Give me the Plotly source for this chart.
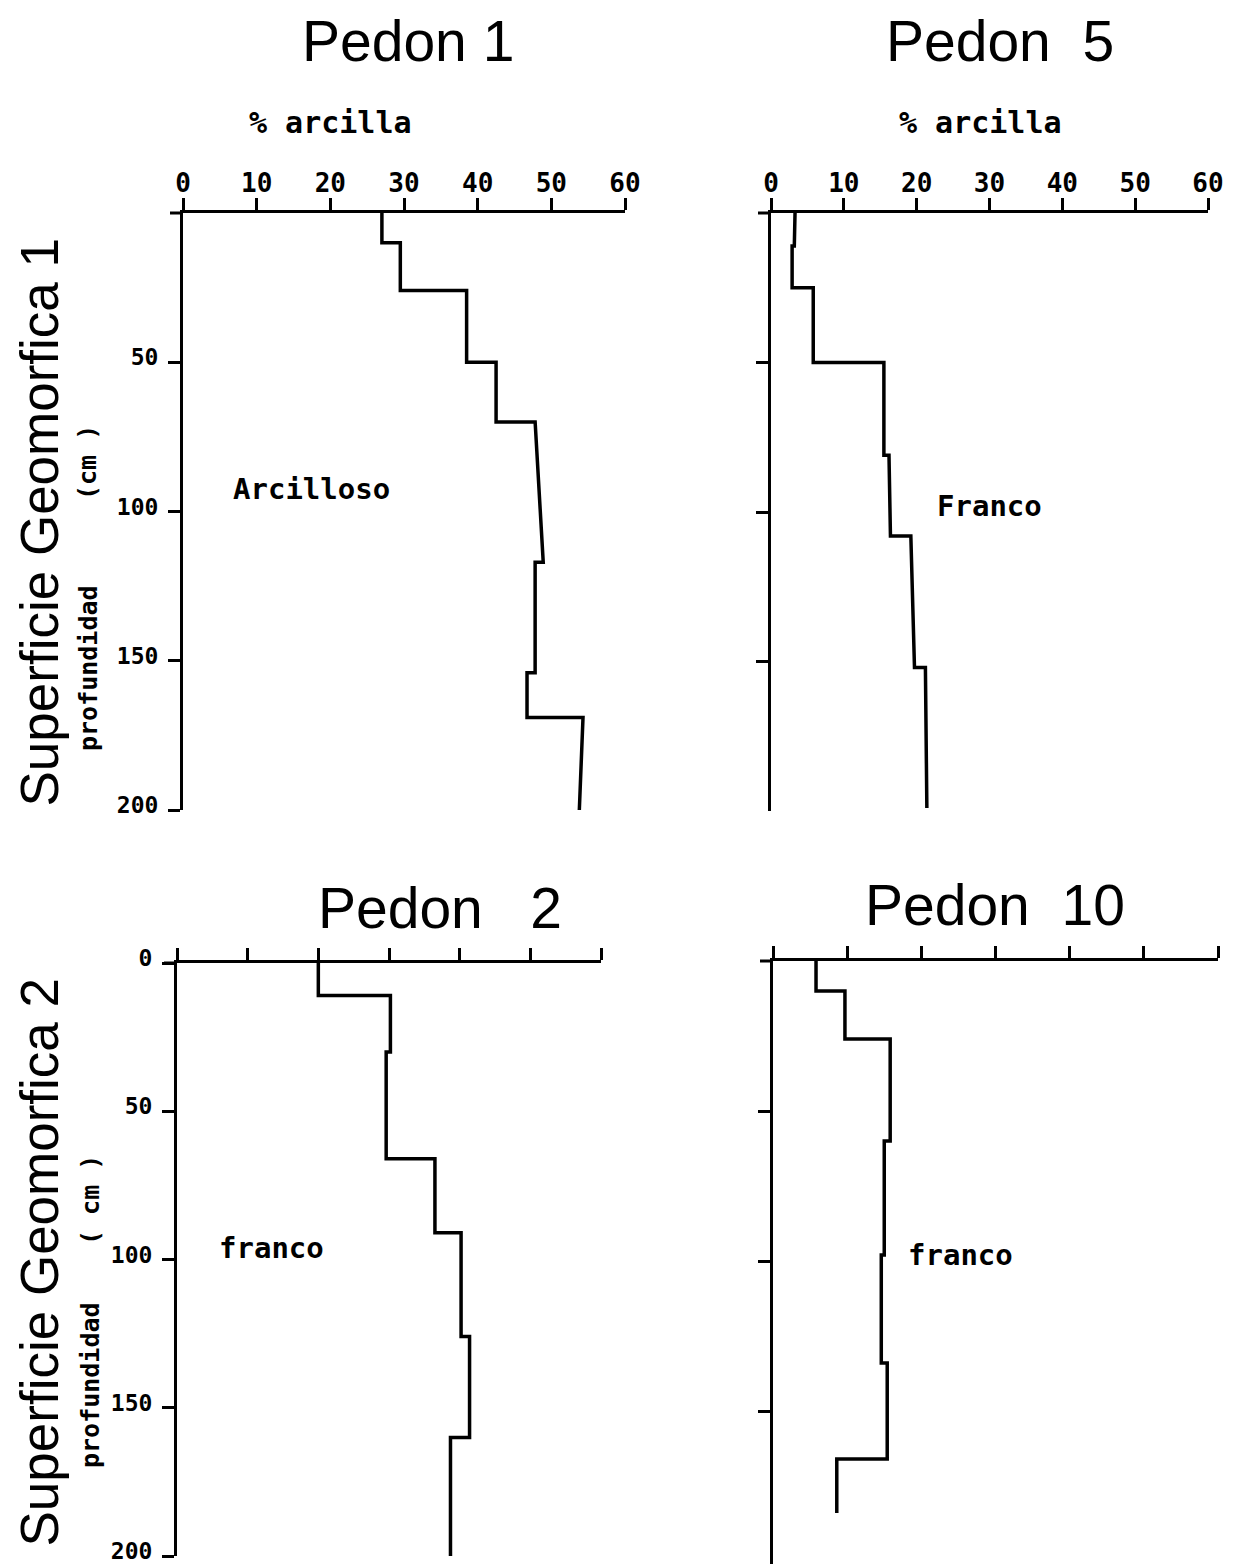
import plotly.graph_objects as go

# ---------------- data ----------------
# depth boundaries of horizons (cm) and clay % at top / bottom of each horizon
p1_depth = [0, 10, 26, 50, 70, 117, 154, 169, 200]
p1_clay_top = [27.0, 29.5, 38.5, 42.5, 47.8, 47.8, 46.7, 54.3]
p1_clay_bot = [27.0, 29.5, 38.5, 42.5, 48.9, 47.8, 46.7, 53.8]

p5_depth = [0, 11, 25, 50, 81, 108, 152, 199]
p5_clay_top = [3.3, 2.9, 5.8, 15.5, 16.2, 19.2, 21.2]
p5_clay_bot = [3.2, 2.9, 5.8, 15.5, 16.4, 19.7, 21.4]

p2_depth = [0, 11, 30, 66, 91, 126, 160, 200]
p2_clay_top = [20.0, 30.2, 29.6, 36.5, 40.2, 41.4, 38.7]
p2_clay_bot = [20.0, 30.2, 29.6, 36.5, 40.2, 41.4, 38.7]

p10_depth = [0, 10, 26, 60, 98, 134, 166, 184]
p10_clay_top = [5.8, 9.7, 15.8, 15.0, 14.6, 15.4, 8.6]
p10_clay_bot = [5.8, 9.7, 15.8, 15.0, 14.6, 15.4, 8.6]

x_ticks = [0, 10, 20, 30, 40, 50, 60]
y_ticks_top = [50, 100, 150, 200]
y_ticks_bottom = [0, 50, 100, 150, 200]
y_ticks_right = [50, 100, 150]

titles = ["Pedon 1", "Pedon\u00a0\u00a05", "Pedon\u00a0\u00a0\u00a02", "Pedon\u00a0\u00a010"]
textures = ["Arcilloso", "Franco", "franco", "franco"]
row_labels = ["Superficie Geomorfica 1", "Superficie Geomorfica 2"]

# ---------------- figure ----------------
# the page adds an 8 px body margin at the top/left; the figure fills the rest
OFF = 8
W, H = 1236 - OFF, 1564 - OFF


def clamp(v):
    return min(1.0, max(0.0, v))


def px(x):
    return (x - OFF) / W


def py(y):
    return 1 - (y - OFF) / H


def profile(depths, top_vals, bot_vals):
    xs, ys = [], []
    for i in range(len(top_vals)):
        xs += [top_vals[i], bot_vals[i]]
        ys += [depths[i], depths[i + 1]]
    return xs, ys


fig = go.Figure()

panels = [
    ("x", "y", p1_depth, p1_clay_top, p1_clay_bot, (183, 625), (213, 810), [200, 0], y_ticks_top, True, True),
    ("x2", "y2", p5_depth, p5_clay_top, p5_clay_bot, (771, 1208), (213, 811), [200, 0], y_ticks_right, False, True),
    ("x3", "y3", p2_depth, p2_clay_top, p2_clay_bot, (177, 601), (963, 1556), [200, 0], y_ticks_bottom, True, False),
    ("x4", "y4", p10_depth, p10_clay_top, p10_clay_bot, (773, 1218), (961, 1564), [201, 0], y_ticks_right, False, False),
]

tick_font = dict(family="DejaVu Sans Mono", size=26, color="black", weight="bold")
ytick_font = dict(family="DejaVu Sans Mono", size=23, color="black", weight="bold")
mono_font = dict(family="DejaVu Sans Mono", size=29, color="black", weight="bold")

for i, (xa, ya, d, t, b, xd, yd, yr, yt, show_y, show_x) in enumerate(panels):
    xs, ys = profile(d, t, b)
    fig.add_trace(go.Scatter(x=xs, y=ys, mode="lines", xaxis=xa, yaxis=ya,
                             line=dict(color="black", width=3.5), showlegend=False,
                             hoverinfo="skip"))
    suffix = "" if i == 0 else str(i + 1)
    fig.layout["xaxis" + suffix] = dict(
        domain=[clamp(px(xd[0])), clamp(px(xd[1]))], range=[0, 60], anchor=ya, side="top",
        tickvals=x_ticks, showticklabels=show_x, ticks="outside", ticklen=12,
        tickwidth=3, tickcolor="black", showline=True, linewidth=3, linecolor="black",
        showgrid=False, zeroline=False, tickfont=tick_font, fixedrange=True,
        automargin=False, ticklabelstandoff=-4, ticklabeloverflow="allow")
    fig.layout["yaxis" + suffix] = dict(
        domain=[clamp(py(yd[1])), clamp(py(yd[0]))], range=yr, anchor=xa,
        tickvals=yt, showticklabels=show_y, ticks="outside", ticklen=12,
        tickwidth=3, tickcolor="black", showline=True, linewidth=3, linecolor="black",
        showgrid=False, zeroline=False, tickfont=ytick_font, fixedrange=True,
        automargin=False, ticklabelstandoff=5, ticklabelshift=5,
        ticklabeloverflow="allow")
    # short overhang of the x axis line to the left of the y axis
    fig.add_shape(type="line", xref="paper", yref="paper",
                  x0=px(xd[0] - 13), x1=px(xd[0]), y0=py(yd[0]), y1=py(yd[0]),
                  line=dict(color="black", width=3))

annotations = []
for txt, (cx, cy) in zip(titles, [(408, 41), (1000, 41), (440, 908), (995, 905)]):
    annotations.append(dict(text=txt, x=px(cx), y=py(cy), xref="paper", yref="paper",
                            showarrow=False, xanchor="center", yanchor="middle",
                            font=dict(family="Liberation Sans", size=57, color="black")))
for cx in (330, 980):
    annotations.append(dict(text="% arcilla", x=px(cx), y=py(122), xref="paper", yref="paper",
                            showarrow=False, xanchor="center", yanchor="middle",
                            font=dict(family="DejaVu Sans Mono", size=30, color="black", weight="bold")))
for txt, (xa, ya, vx, vy) in zip(textures, [("x", "y", 17.5, 92.5), ("x2", "y2", 30.0, 98.0),
                                            ("x3", "y3", 13.4, 96.0), ("x4", "y4", 25.3, 98.0)]):
    annotations.append(dict(text=txt, x=vx, y=vy, xref=xa, yref=ya, showarrow=False,
                            xanchor="center", yanchor="middle", font=mono_font))
for txt, cy in zip(row_labels, (522, 1262)):
    annotations.append(dict(text=txt, x=px(38.5), y=py(cy), xref="paper", yref="paper",
                            showarrow=False, textangle=-90, xanchor="center", yanchor="middle",
                            font=dict(family="Liberation Sans", size=53, color="black")))
for txt, cx, cy in [("profundidad", 88, 668), ("(cm )", 88, 463),
                    ("profundidad", 90, 1385), ("( cm )", 90, 1200)]:
    annotations.append(dict(text=txt, x=px(cx), y=py(cy), xref="paper", yref="paper",
                            showarrow=False, textangle=-90, xanchor="center", yanchor="middle",
                            font=dict(family="DejaVu Sans Mono", size=25, color="black", weight="bold")))

fig.update_layout(width=W, height=H, margin=dict(l=0, r=0, t=0, b=0, autoexpand=False),
                  paper_bgcolor="white", plot_bgcolor="white",
                  annotations=annotations, showlegend=False)

fig.write_html("out.html")
